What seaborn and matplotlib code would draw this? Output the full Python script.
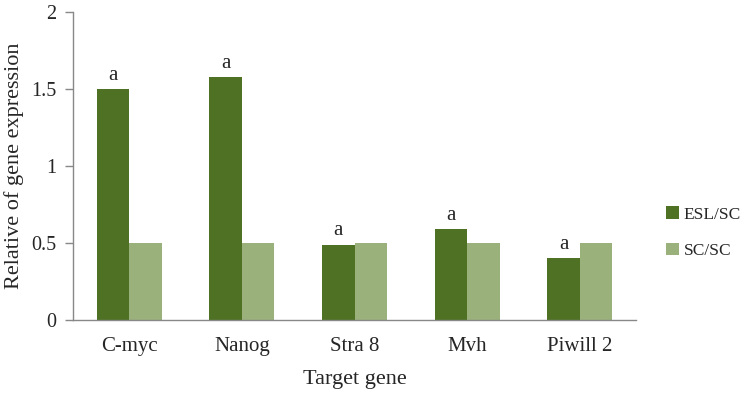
import pandas as pd
import seaborn as sns
import matplotlib.pyplot as plt
from matplotlib.ticker import FixedLocator

genes = ['C-myc', 'Nanog', 'Stra 8', 'Mvh', 'Piwill 2']
esl_sc = [1.50, 1.58, 0.49, 0.59, 0.40]
sc_sc = [0.50, 0.50, 0.50, 0.50, 0.50]
series = ['ESL/SC', 'SC/SC']
marks = ['a', 'a', 'a', 'a', 'a']

df = pd.DataFrame({
    'gene': genes * 2,
    'value': esl_sc + sc_sc,
    'group': [series[0]] * len(genes) + [series[1]] * len(genes),
})

sns.set_style('white')
plt.rcParams['font.family'] = ['Liberation Serif', 'DejaVu Serif']
plt.rcParams['font.size'] = 15

fig = plt.figure(figsize=(7.42, 4), dpi=100)
ax = fig.add_axes([0.0984, 0.2, 0.759, 0.77])
sns.barplot(data=df, x='gene', y='value', hue='group', order=genes,
            palette=['#4E7123', '#9BB17C'], width=0.577, saturation=1,
            linewidth=0, ax=ax)

ax.set_ylim(0, 2)
ax.set_xlim(-0.5, len(genes) - 0.5)
ax.set_yticks([0, 0.5, 1, 1.5, 2])
ax.set_yticklabels(['0', '0.5', '1', '1.5', '2'], fontsize=14.5)
ax.xaxis.set_minor_locator(FixedLocator([i - 0.5 for i in range(len(genes) + 1)]))
ax.tick_params(axis='x', which='major', length=0, pad=12, labelsize=15)
ax.tick_params(axis='x', which='minor', length=6, color='#888888', width=1)
ax.tick_params(axis='y', length=6, color='#888888', width=1, left=True, pad=6)
ax.set_xlabel('Target gene', fontsize=16, labelpad=10)
ax.set_ylabel('Relative of gene expression', fontsize=16, labelpad=5)

for s in ['top', 'right']:
    ax.spines[s].set_visible(False)
for s in ['left', 'bottom']:
    ax.spines[s].set_color('#888888')
    ax.spines[s].set_linewidth(1)

# "a" marks above the ESL/SC bars
for bar, m in zip(ax.containers[0], marks):
    ax.annotate(m, (bar.get_x() + bar.get_width() / 2, bar.get_height()),
                xytext=(0, 3), textcoords='offset points',
                ha='center', va='bottom', fontsize=15)

ax.legend(title=None, frameon=False, loc='center left',
          bbox_to_anchor=(0.898, 0.418), bbox_transform=fig.transFigure,
          handlelength=0.75, handleheight=0.75, handletextpad=0.25,
          labelspacing=1.15, fontsize=12.5, borderaxespad=0, borderpad=0)

plt.savefig('out.png', dpi=100)
